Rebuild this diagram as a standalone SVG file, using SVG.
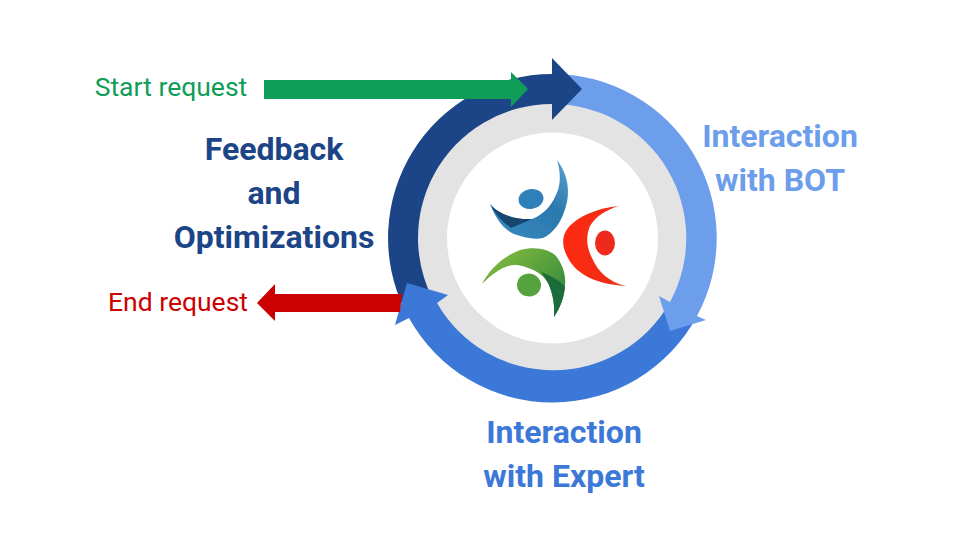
<svg xmlns="http://www.w3.org/2000/svg" width="960" height="540" viewBox="0 0 960 540">
<style>
text{font-family:Roboto,"Liberation Sans",sans-serif;text-anchor:middle}
.big{font-size:32px;font-weight:700}
.small{font-size:26.500px;font-weight:400}
.dark{fill:#1c4587}.mid{fill:#3c78d8}.light{fill:#6d9eeb}.green{fill:#0f9d58}.red{fill:#cc0000}
</style>
<defs>
<linearGradient id="gb" x1="0" y1="1" x2="1" y2="0"><stop offset="0" stop-color="#3a8cc4"/><stop offset=".6" stop-color="#2a78ad"/><stop offset="1" stop-color="#5aa3cf"/></linearGradient>
<linearGradient id="gg" x1="0" y1="0" x2="1" y2="1"><stop offset="0" stop-color="#8cc13f"/><stop offset=".6" stop-color="#4d9a3c"/><stop offset="1" stop-color="#1f7a3d"/></linearGradient>
<linearGradient id="gr" x1="0" y1="0" x2="1" y2="0"><stop offset="0" stop-color="#ff2a10"/><stop offset=".7" stop-color="#f22c16"/><stop offset="1" stop-color="#d8533a"/></linearGradient>
</defs>
<rect width="960" height="540" fill="#fff"/>
<g id="hub">
<circle cx="552.5" cy="238" r="136" fill="#e3e3e3"/>
<circle cx="552.5" cy="238" r="105.500" fill="#fff"/>
</g>
<g id="logo">
<path fill="url(#gb)" d="M557 160C566 172 570 186 567 202C563 221 553 234 543 238C533 240 523 237 514 234C503 229 496 219 490 204C498 214 512 220 532 219C545 214 553 204 558 190C561 180 560 170 557 160Z"/>
<path fill="#17466f" d="M490 204C497 213 514 220 532 219C525 222 518 225 511 228C502 222 495 214 490 204Z"/>
<ellipse cx="531" cy="199" rx="12.500" ry="10" transform="rotate(-10 531 199)" fill="#2f7fb8"/>
<path fill="url(#gr)" d="M619 206C598 208 578 216 568 228C561 237 562 247 568 258C574 270 590 284 626 286C609 282 598 272 592 258C586 246 586 236 590 226C596 216 606 210 619 206Z"/>
<ellipse cx="605" cy="243" rx="10" ry="12.500" fill="#ee2a1c"/>
<path fill="url(#gg)" d="M482 284C490 268 504 256 520 250C535 246 549 249 556 256C563 265 566 275 565 285C564 298 560 308 554 317C555 306 553 295 549 285C545 276 535 268 517 265C507 264 495 271 482 284Z"/>
<path fill="#1c6b3a" d="M541 272C551 276 561 281 565 287C564 298 560 308 554 317C555 305 553 295 549 285C547 280 544 276 541 272Z"/>
<ellipse cx="529" cy="285" rx="12" ry="11.500" transform="rotate(15 529 285)" fill="#55a23e"/>
</g>
<g id="connectors">
<g id="feedback-arc"><path class="dark" d="M404.700 310A164 164 0 0 1 552 74L552 104A134 134 0 0 0 439 310Z"/></g>
<g id="expert-arc"><path class="mid" d="M697 316A164 164 0 0 1 409 318L395 325L407 283L448 295L437 303A134 134 0 0 0 670 302Z"/></g>
<g id="bot-arc"><path class="light" d="M552 74A164 164 0 0 1 697 316L706 320L670 331L659 296L670 302A134 134 0 0 0 552 104Z"/></g>
<g id="feedback-head"><path class="dark" d="M552 58L582 89L552 120Z"/></g>
<g id="start-arrow"><path class="green" d="M264 80H511V72L528 89L511 107V99H264Z"/></g>
<g id="end-arrow"><path class="red" d="M402 294H275V284L257 303L275 321V312H400Z"/></g>
</g>
<g id="label-start"><text class="small green" x="171" y="96">Start request</text></g>
<g id="label-end"><text class="small red" x="178" y="311">End request</text></g>
<g id="label-feedback"><text class="big dark" x="274" y="160">Feedback</text><text class="big dark" x="274" y="204">and</text><text class="big dark" x="274" y="248">Optimizations</text></g>
<g id="label-bot"><text class="big light" x="780" y="147">Interaction</text><text class="big light" x="780" y="191">with BOT</text></g>
<g id="label-expert"><text class="big mid" x="564" y="443">Interaction</text><text class="big mid" x="564" y="487">with Expert</text></g>
</svg>
